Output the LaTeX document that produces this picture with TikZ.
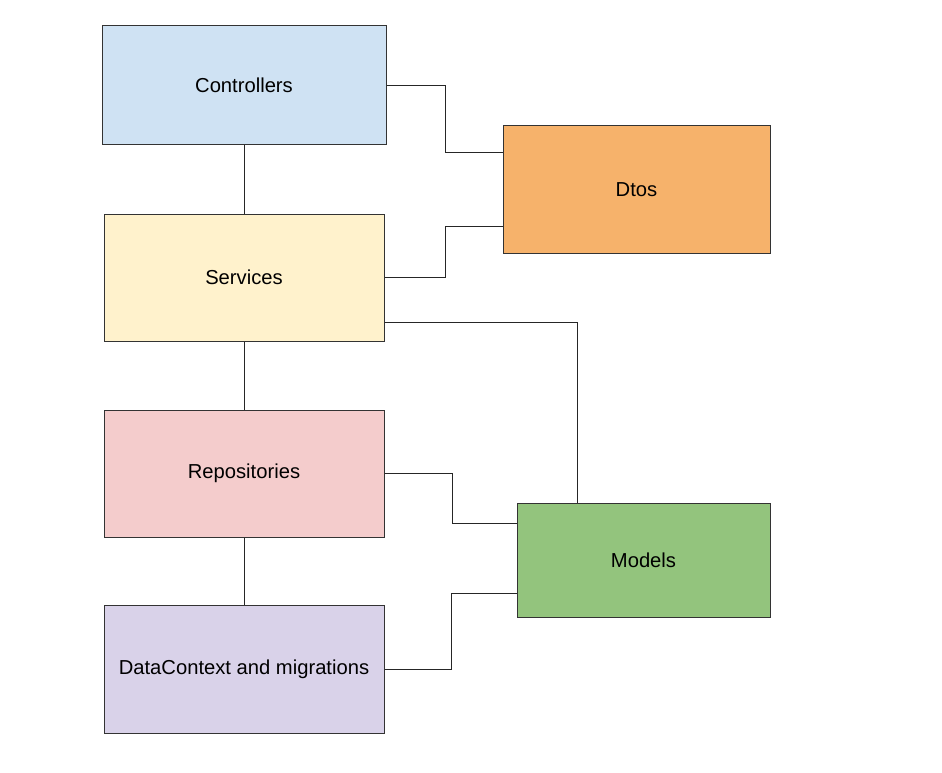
\documentclass[tikz,border=0pt]{standalone}
\usepackage{fontspec}
\setmainfont{Liberation Sans}
\definecolor{ctrlblue}{HTML}{CFE2F3}
\definecolor{servyellow}{HTML}{FFF2CC}
\definecolor{repored}{HTML}{F4CCCC}
\definecolor{datapurple}{HTML}{D9D2E9}
\definecolor{dtoorange}{HTML}{F6B26B}
\definecolor{modelgreen}{HTML}{93C47D}
\begin{document}
\begin{tikzpicture}[x=1pt, y=-1pt,
  layer/.style={draw=black!80, line width=1pt, rectangle, inner sep=0pt, font=\fontsize{20.2}{24}\selectfont},
  link/.style={draw=black!85, line width=1pt}]
\useasboundingbox (0,0) rectangle (942,773);
\node[layer, fill=ctrlblue, minimum width=284pt, minimum height=119pt] (ctrl) at (244,85.5){Controllers};
\node[layer, fill=servyellow, minimum width=280pt, minimum height=127pt] (serv) at (244,277.5){Services};
\node[layer, fill=repored, minimum width=280pt, minimum height=127pt] (repo) at (244,473.5){Repositories};
\node[layer, fill=datapurple, minimum width=280pt, minimum height=128pt] (data) at (244,669){DataContext and migrations};
\node[layer, fill=dtoorange, minimum width=267pt, minimum height=127pt] (dtos) at (636.5,189.5){Dtos};
\node[layer, fill=modelgreen, minimum width=253pt, minimum height=114pt] (models) at (643.5,560){Models};
\draw[link](ctrl) -- (serv);
\draw[link](serv) -- (repo);
\draw[link](repo) -- (data);
\draw[link](ctrl.east) -| (445,152) -- (dtos.west |- 0,152);
\draw[link](serv.east) -| (445,226) -- (dtos.west |- 0,226);
\draw[link](serv.east |- 0,322) -| (models.north -| 577,0);
\draw[link](repo.east) -| (452,523) -- (models.west |- 0,523);
\draw[link](data.east) -| (451,593) -- (models.west |- 0,593);

\end{tikzpicture}
\end{document}
